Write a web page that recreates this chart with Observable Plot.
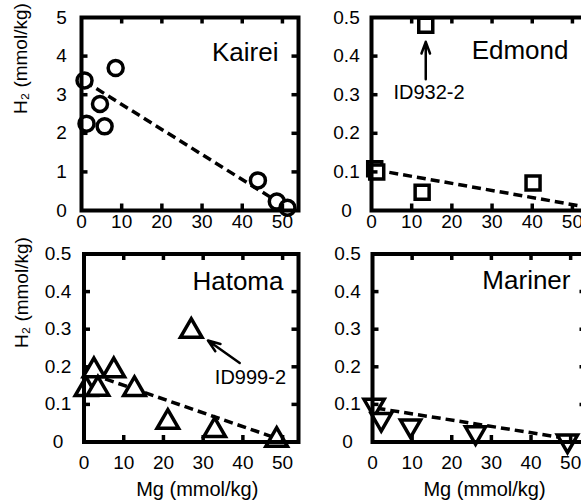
<!DOCTYPE html>
<html><head><meta charset="utf-8">
<script src="https://cdn.jsdelivr.net/npm/d3@7"></script>
<script src="https://cdn.jsdelivr.net/npm/@observablehq/plot@0.6"></script>
<style>
html,body{margin:0;padding:0;background:#fff;overflow:hidden;}
#fig{width:581px;height:503px;overflow:hidden;}
</style></head><body><div id="fig"></div>
<script>
// ---- data ----
const kaireiMg = [0.75, 1.25, 4.6, 5.75, 8.5, 43.9, 48.6, 51.25];
const kaireiH2 = [3.37, 2.25, 2.76, 2.18, 3.69, 0.78, 0.23, 0.07];
const kaireiTrendMg = [0.75, 51.25];
const kaireiTrendH2 = [3.35, 0.07];

const edmondMg = [0.8, 1.3, 12.6, 40.2, 13.5];
const edmondH2 = [0.108, 0.1, 0.047, 0.071, 0.48];
const edmondTrendMg = [1, 54];
const edmondTrendH2 = [0.105, 0.008];
const edmondNote = [{label: "ID932-2", x: 14.3, y: 0.306, x1: 13.5, y1: 0.34, x2: 13.5, y2: 0.437}];

const hatomaMg = [0.5, 2.5, 3.5, 7.5, 12.7, 21.1, 32.9, 48.5, 27];
const hatomaH2 = [0.14, 0.19, 0.141, 0.19, 0.14, 0.053, 0.031, 0.005, 0.295];
const hatomaTrendMg = [2, 49];
const hatomaTrendH2 = [0.18, 0.008];
const hatomaNote = [{label: "ID999-2", x: 41.9, y: 0.172, x1: 39.2, y1: 0.21, x2: 31.2, y2: 0.27}];

const marinerMg = [0.4, 2.2, 9.6, 26, 49.2];
const marinerH2 = [0.098, 0.06, 0.043, 0.025, 0.003];
const marinerTrendMg = [1, 50];
const marinerTrendH2 = [0.09, 0.008];

const xTickLabels = [0, 10, 20, 30, 40, 50];
const xTickMarks = [10, 20, 30, 40, 50];
const kaireiYTicks = [0, 1, 2, 3, 4, 5];
const kaireiYMarks = [1, 2, 3, 4];
const smallYTicks = [0, 0.1, 0.2, 0.3, 0.4, 0.5];
const smallYMarks = [0.1, 0.2, 0.3, 0.4];

const yTitle = "H\u2082 (mmol/kg)";
const xTitle = "Mg (mmol/kg)";
const X_MAX = 54;

// inverted triangle symbol
const triangleDown = {
  draw(ctx, size) {
    const y = -Math.sqrt(size / (Math.sqrt(3) * 3));
    ctx.moveTo(0, -2 * y);
    ctx.lineTo(-Math.sqrt(3) * y, y);
    ctx.lineTo(Math.sqrt(3) * y, y);
    ctx.closePath();
  }
};

const FONT = "'Liberation Sans', Arial, Helvetica, sans-serif";
const outer = d3.create("svg").attr("width", 581).attr("height", 503)
  .attr("viewBox", "0 0 581 503").style("display", "block").style("background", "white");
document.getElementById("fig").appendChild(outer.node());

function panel(o) {
  const pts = o.mg.map((m, i) => ({mg: m, h2: o.h2[i]}));
  const trend = [{x1: o.tMg[0], y1: o.tH2[0], x2: o.tMg[1], y2: o.tH2[1]}];
  const innerH = o.height - o.mt - o.mb;
  const innerW = o.width - o.ml - o.mr;
  const tl = 6.5; // tick length in px
  const dy = o.yMax * tl / innerH;
  const dx = X_MAX * tl / innerW;
  const marks = [
    Plot.link(trend, {x1: "x1", y1: "y1", x2: "x2", y2: "y2", stroke: "black", strokeWidth: 3.5, strokeDasharray: "9,5"}),
    Plot.dot(pts, {x: "mg", y: "h2", symbol: o.symbol, r: o.r, stroke: "black", strokeWidth: 3.5, fill: "white"}),
    Plot.ruleX(xTickMarks, {x: d => d, y1: 0, y2: dy, stroke: "black", strokeWidth: 3.5}),
    Plot.ruleX(xTickMarks, {x: d => d, y1: o.yMax - dy, y2: o.yMax, stroke: "black", strokeWidth: 3.5}),
    Plot.ruleY(o.yMarks, {y: d => d, x1: 0, x2: dx, stroke: "black", strokeWidth: 3.5}),
    Plot.ruleY(o.yMarks, {y: d => d, x1: X_MAX - dx, x2: X_MAX, stroke: "black", strokeWidth: 3.5}),
    Plot.frame({stroke: "black", strokeWidth: 4}),
    Plot.text(xTickLabels, {x: d => d, text: d => String(d), frameAnchor: "bottom", dy: o.xPad, lineAnchor: "top", fontSize: 19, fill: "black"}),
    Plot.text(o.yTicks, {y: d => d, text: d => String(d), frameAnchor: "left", dx: -o.yPad, textAnchor: "middle", lineAnchor: "middle", fontSize: 19, fill: "black"}),
    Plot.text([o.label], {text: d => d, frameAnchor: "top-right", textAnchor: "end", lineAnchor: "middle", dx: -o.labelDx, dy: o.labelDy, fontSize: 26, fill: "black"})
  ];
  if (o.note) {
    marks.push(Plot.arrow(o.note, {x1: "x1", y1: "y1", x2: "x2", y2: "y2", stroke: "black", strokeWidth: 2.5, headLength: 12, headAngle: 40}));
    marks.push(Plot.text(o.note, {x: "x", y: "y", text: "label", fontSize: 20, fill: "black", lineAnchor: "middle"}));
  }
  if (o.yLabel) marks.push(Plot.text([yTitle], {text: d => d, frameAnchor: "left", dx: o.yLabelDx, rotate: -90, fontSize: 19, fill: "black", lineAnchor: "middle"}));
  if (o.xLabel) marks.push(Plot.text([xTitle], {text: d => d, frameAnchor: "bottom", dx: o.xLabelDx, dy: 48, fontSize: 20, fill: "black", lineAnchor: "middle"}));
  const svg = Plot.plot({
    width: o.width, height: o.height,
    marginLeft: o.ml, marginRight: o.mr, marginTop: o.mt, marginBottom: o.mb,
    x: {domain: [0, X_MAX], axis: null, label: null},
    y: {domain: [0, o.yMax], axis: null, label: null},
    style: {fontFamily: FONT, background: "transparent", color: "black", overflow: "visible"},
    marks
  });
  svg.querySelectorAll("g[stroke-width]").forEach(g => {
    const w = g.getAttribute("stroke-width");
    g.querySelectorAll("path, rect, line, circle").forEach(el => {
      el.setAttribute("stroke-width", w);
      el.style.strokeWidth = w + "px";
    });
  });
  svg.setAttribute("x", o.left);
  svg.setAttribute("y", o.top);
  svg.style.width = o.width + "px";
  svg.style.height = o.height + "px";
  svg.style.maxWidth = "none";
  outer.node().appendChild(svg);
  return svg;
}

panel({left: 0, top: 0, width: 302, height: 240, ml: 81, mr: 4, mt: 17, mb: 30,
  mg: kaireiMg, h2: kaireiH2, tMg: kaireiTrendMg, tH2: kaireiTrendH2, yMax: 5,
  yTicks: kaireiYTicks, yMarks: kaireiYMarks, symbol: "circle", r: 7.5,
  label: "Kairei", labelDx: 20, labelDy: 35, xPad: 4, yPad: 20, yLabel: true, yLabelDx: -60.5});

panel({left: 290, top: 0, width: 302, height: 240, ml: 81, mr: 4, mt: 17, mb: 30,
  mg: edmondMg, h2: edmondH2, tMg: edmondTrendMg, tH2: edmondTrendH2, yMax: 0.5,
  yTicks: smallYTicks, yMarks: smallYMarks, symbol: "square", r: 7.9,
  label: "Edmond", labelDx: 20, labelDy: 33, xPad: 4, yPad: 25, note: edmondNote});

panel({left: 0, top: 240, width: 302, height: 263, ml: 83.5, mr: 4, mt: 13.5, mb: 61.5,
  mg: hatomaMg, h2: hatomaH2, tMg: hatomaTrendMg, tH2: hatomaTrendH2, yMax: 0.5,
  yTicks: smallYTicks, yMarks: smallYMarks, symbol: "triangle", r: 8,
  label: "Hatoma", labelDx: 15, labelDy: 27.5, xPad: 13.5, yPad: 26, note: hatomaNote,
  yLabel: true, yLabelDx: -62.5, xLabel: true, xLabelDx: 6});

panel({left: 290, top: 240, width: 300, height: 263, ml: 82, mr: 4, mt: 13.5, mb: 61.5,
  mg: marinerMg, h2: marinerH2, tMg: marinerTrendMg, tH2: marinerTrendH2, yMax: 0.5,
  yTicks: smallYTicks, yMarks: smallYMarks, symbol: triangleDown, r: 7.5,
  label: "Mariner", labelDx: 16, labelDy: 26.5, xPad: 13.5, yPad: 25, xLabel: true, xLabelDx: 5});
</script>
</body></html>
